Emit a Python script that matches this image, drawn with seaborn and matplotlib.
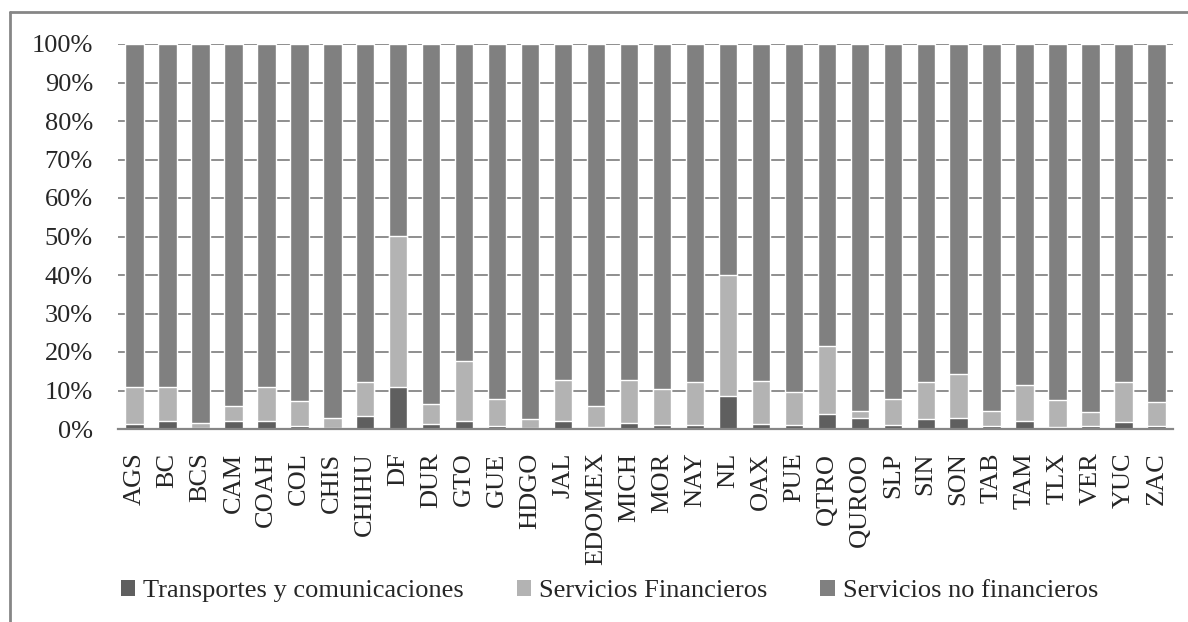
import matplotlib
matplotlib.use('Agg')
import matplotlib.pyplot as plt
import numpy as np
import pandas as pd
import seaborn as sns
from matplotlib.patches import Patch
from matplotlib.lines import Line2D

estados = ['AGS', 'BC', 'BCS', 'CAM', 'COAH', 'COL', 'CHIS', 'CHIHU', 'DF', 'DUR',
           'GTO', 'GUE', 'HDGO', 'JAL', 'EDOMEX', 'MICH', 'MOR', 'NAY', 'NL', 'OAX',
           'PUE', 'QTRO', 'QUROO', 'SLP', 'SIN', 'SON', 'TAB', 'TAM', 'TLX', 'VER',
           'YUC', 'ZAC']

# porcentajes
transportes = [1.2, 2.1, 0.2, 2.1, 2.1, 0.9, 0.2, 3.3, 10.8, 1.2,
               2.2, 0.7, 0.2, 2.1, 0.6, 1.6, 1.0, 1.1, 8.5, 1.3,
               1.0, 3.8, 2.8, 1.1, 2.5, 2.8, 0.7, 2.1, 0.5, 0.7,
               1.8, 0.7]
financieros = [9.8, 8.7, 1.4, 4.0, 8.7, 6.3, 2.6, 9.0, 39.4, 5.4,
               15.4, 7.2, 2.3, 10.5, 5.3, 11.2, 9.5, 11.2, 31.5, 11.2,
               8.6, 17.8, 2.0, 6.6, 9.6, 11.6, 4.0, 9.2, 7.1, 3.6,
               10.3, 6.3]
no_financieros = [100 - t - f for t, f in zip(transportes, financieros)]

series = ['Transportes y comunicaciones', 'Servicios Financieros', 'Servicios no financieros']
colores = ['#5f5f5f', '#b3b3b3', '#808080']

df = pd.DataFrame({'estado': estados, 'transportes': transportes,
                   'financieros': financieros, 'no_financieros': no_financieros})
df['tope_fin'] = df['transportes'] + df['financieros']
df['tope_total'] = df['tope_fin'] + df['no_financieros']

sns.set_style('white')
plt.rcParams['font.family'] = ['Liberation Serif', 'DejaVu Serif']

fig = plt.figure(figsize=(11.88, 6.22), dpi=100)
ax = fig.add_axes([118 / 1188, 1 - 429 / 622, (1173 - 118) / 1188, (429 - 44) / 622])

# barras apiladas: se dibuja de atras hacia adelante
for col, color in [('tope_total', colores[2]), ('tope_fin', colores[1]), ('transportes', colores[0])]:
    sns.barplot(data=df, x='estado', y=col, color=color, width=0.56,
                saturation=1, errorbar=None, ax=ax, zorder=2)

ax.set_ylim(0, 100)
ax.set_xlim(-0.5, len(estados) - 0.5)
ax.set_yticks(np.arange(0, 101, 10))
ax.set_yticklabels([f'{v}%' for v in range(0, 101, 10)])
ax.set_xlabel('')
ax.set_ylabel('')
ax.grid(axis='y', color='#868686', linewidth=1.3, zorder=0)
ax.set_axisbelow(True)
for s in ['left', 'right', 'top']:
    ax.spines[s].set_visible(False)
ax.spines['bottom'].set_color('#868686')
ax.spines['bottom'].set_linewidth(1.6)
ax.tick_params(axis='y', length=0, pad=18, labelsize=19)
ax.tick_params(axis='x', length=0, pad=17, labelsize=19, rotation=90)

handles = [Patch(facecolor=c, edgecolor='none') for c in colores]
fig.legend(handles, series, loc='center', bbox_to_anchor=(0.513, 0.05), ncol=3,
           frameon=False, fontsize=19, handlelength=0.55, handleheight=0.55,
           handletextpad=0.3, columnspacing=2.0)

# marco del area del grafico
fig.add_artist(Line2D([10 / 1188, 10 / 1188], [0, 1 - 12 / 622], color='#868686', lw=2))
fig.add_artist(Line2D([10 / 1188, 1], [1 - 12 / 622, 1 - 12 / 622], color='#868686', lw=2))

fig.savefig('out.png', dpi=100)
